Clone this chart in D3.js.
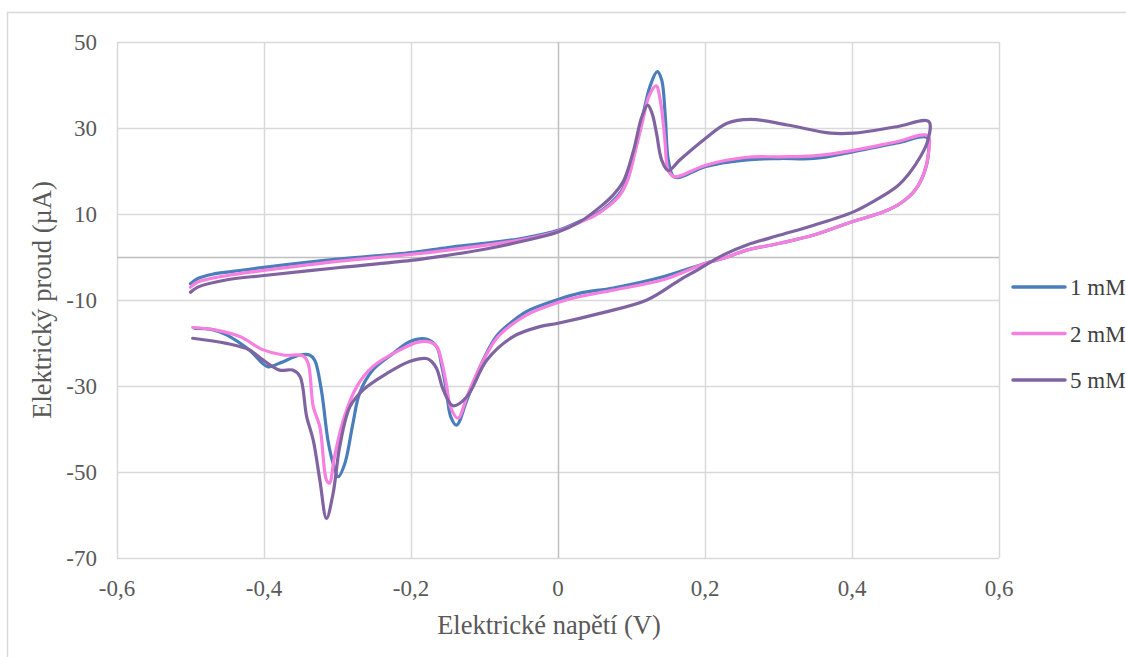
<!DOCTYPE html>
<html>
<head>
<meta charset="utf-8">
<script src="https://cdn.jsdelivr.net/npm/d3@7"></script>
<style>
  body { margin: 0; background: #fff; }
</style>
</head>
<body>
<div id="chart"></div>
<script>
// 1 mM: voltage (V) and current (uA), forward scan then reverse scan
var v1 = [-0.5,-0.49,-0.47,-0.44,-0.4,-0.3,-0.2,-0.15,-0.1,-0.05,0,0.03,0.05,0.07,0.085,0.095,0.105,0.115,0.125,0.135,0.141,0.146,0.15,0.157,0.165,0.2,0.257,0.302,0.348,0.402,0.461,0.502,
  0.504,0.498,0.486,0.466,0.443,0.4,0.348,0.302,0.257,0.225,0.2,0.143,0.075,0.03,0,-0.043,-0.065,-0.084,-0.106,-0.124,-0.138,-0.146,-0.152,-0.158,-0.165,-0.179,-0.202,-0.224,-0.252,-0.27,-0.279,-0.29,-0.299,-0.306,-0.313,-0.322,-0.331,-0.338,-0.351,-0.379,-0.395,-0.42,-0.451,-0.47,-0.494];
var i1 = [-6.2,-5.0,-4.0,-3.3,-2.4,-0.5,1.0,2.2,3.2,4.3,6.2,8.3,9.8,12.3,15.0,18.5,25,32.5,39.6,43.1,41.2,32.6,22.6,18.7,18.5,21.0,22.6,22.9,22.9,24.5,26.5,27.8,
  24.1,19.5,15.6,12.5,10.5,8.2,5.1,3.2,1.6,-0.3,-1.5,-4.6,-7.2,-8.4,-9.9,-12.7,-15.4,-18.5,-25.5,-33.3,-39.1,-37.1,-30.9,-25.5,-20.9,-19.1,-19.7,-22.4,-26.3,-31.7,-38.7,-48,-51.1,-48,-42.6,-30.9,-24.0,-22.8,-22.8,-24.7,-25.5,-21.6,-18.1,-16.9,-16.6];

// 2 mM
var v2 = [-0.5,-0.49,-0.45,-0.4,-0.3,-0.2,-0.15,-0.1,-0.05,0,0.03,0.05,0.07,0.085,0.095,0.105,0.115,0.124,0.1335,0.14,0.145,0.15,0.157,0.165,0.2,0.257,0.302,0.348,0.402,0.461,0.503,
  0.504,0.498,0.486,0.466,0.443,0.4,0.348,0.302,0.257,0.225,0.2,0.143,0.075,0.03,0,-0.043,-0.065,-0.084,-0.106,-0.124,-0.136,-0.146,-0.152,-0.158,-0.165,-0.174,-0.19,-0.215,-0.252,-0.274,-0.292,-0.304,-0.311,-0.315,-0.324,-0.333,-0.34,-0.347,-0.374,-0.401,-0.433,-0.465,-0.497];
var i2 = [-7.0,-5.8,-4.3,-3.1,-1.0,0.6,1.6,2.7,4.0,6.0,8.1,9.6,12.0,14.6,18.0,24.5,31.5,37.5,39.8,35.5,28,20.2,18.7,18.8,21.3,23.2,23.3,23.5,24.8,26.8,28.2,
  24.1,19.5,15.6,12.5,10.5,8.2,5.1,3.2,1.6,-0.3,-1.5,-5.3,-7.7,-9.2,-10.6,-13.5,-16.0,-19.0,-25.5,-32.5,-37.5,-35.0,-29.5,-24.5,-20.8,-19.8,-19.8,-21.6,-25.5,-30.2,-37.9,-46.4,-52.6,-51.9,-39.5,-34.8,-24.7,-23.0,-22.8,-21.6,-18.5,-17.0,-16.4];

// 5 mM
var v5 = [-0.5,-0.49,-0.45,-0.4,-0.3,-0.2,-0.15,-0.1,-0.05,0,0.03,0.057,0.075,0.089,0.103,0.114,0.122,0.128,0.134,0.141,0.15,0.166,0.198,0.23,0.262,0.312,0.371,0.402,0.461,0.5045,
  0.503,0.493,0.478,0.461,0.43,0.402,0.348,0.302,0.257,0.225,0.19,0.166,0.121,0.057,0,-0.025,-0.061,-0.097,-0.124,-0.143,-0.156,-0.165,-0.172,-0.179,-0.202,-0.233,-0.265,-0.283,-0.297,-0.306,-0.315,-0.324,-0.333,-0.342,-0.351,-0.361,-0.379,-0.401,-0.42,-0.451,-0.497];
var i5 = [-8.2,-7.0,-5.3,-4.3,-2.5,-0.8,0.4,1.8,3.6,5.8,8.2,11.6,14.4,17.6,24.9,32.6,35.3,33.4,28.8,22.6,20.1,22.6,27.2,31.1,32.0,30.7,28.8,28.8,30.3,31.5,
  27,23.3,19.5,16.4,13,10.5,7.4,5.1,2.8,0.5,-3,-5.3,-10,-13.1,-15.4,-16.2,-18.5,-24.0,-32.5,-34.6,-30.9,-26,-24.3,-23.6,-24.3,-27.1,-30.9,-34.8,-44.1,-55,-60.8,-51.9,-42.6,-37.1,-27.8,-26.3,-26.3,-24.0,-21.6,-20.1,-18.9];

var seriesNames = ['1 mM', '2 mM', '5 mM'];
var seriesColors = ['#4a7ebb', '#f77fdf', '#8064a2'];
var xTicks = [-0.6, -0.4, -0.2, 0, 0.2, 0.4, 0.6];
var yTicks = [50, 30, 10, -10, -30, -50, -70];

var FONT = '"Liberation Serif", "Times New Roman", Times, serif';
var W = 1126, H = 657;
var margin = {top: 42, left: 117, right: 127, bottom: 99};
var width = W - margin.left - margin.right,
    height = H - margin.top - margin.bottom;

var series = [[v1, i1], [v2, i2], [v5, i5]].map(function(s, k) {
  return {name: seriesNames[k], color: seriesColors[k],
    pts: s[0].map(function(v, j) { return [v, s[1][j]]; })};
});

var xScale = d3.scaleLinear().domain([-0.6, 0.6]).range([0, width]);
var yScale = d3.scaleLinear().domain([-70, 50]).range([height, 0]);
var fmt = function(d) { return String(d).replace('.', ','); };

var svg = d3.select('#chart').append('svg')
  .attr('width', W).attr('height', H)
  .attr('font-family', FONT);

// outer frame
svg.append('rect')
  .attr('x', 7.5).attr('y', 12.5)
  .attr('width', W + 20).attr('height', H + 20)
  .style('fill', 'none').style('stroke', '#d9d9d9').style('stroke-width', 1.5);

var g = svg.append('g')
  .attr('transform', 'translate(' + margin.left + ',' + margin.top + ')');

// grid
g.selectAll('.hgrid').data(yTicks).enter().append('line')
  .attr('x1', 0).attr('x2', width)
  .attr('y1', function(d) { return Math.round(yScale(d)) + 0.5; })
  .attr('y2', function(d) { return Math.round(yScale(d)) + 0.5; })
  .style('stroke', '#d9d9d9').style('stroke-width', 1.5);
g.selectAll('.vgrid').data(xTicks).enter().append('line')
  .attr('y1', 0).attr('y2', height)
  .attr('x1', function(d) { return Math.round(xScale(d)) + 0.5; })
  .attr('x2', function(d) { return Math.round(xScale(d)) + 0.5; })
  .style('stroke', function(d) { return d === 0 ? '#bfbfbf' : '#d9d9d9'; })
  .style('stroke-width', 1.5);
// zero line
g.append('line')
  .attr('x1', 0).attr('x2', width)
  .attr('y1', Math.round(yScale(0)) + 0.5).attr('y2', Math.round(yScale(0)) + 0.5)
  .style('stroke', '#bfbfbf').style('stroke-width', 1.5);

// tick labels
g.selectAll('.ylab').data(yTicks).enter().append('text')
  .attr('x', -20).attr('y', function(d) { return yScale(d); })
  .attr('dy', '0.35em').attr('text-anchor', 'end')
  .style('font-family', FONT).style('font-size', '23px').style('fill', '#595959')
  .text(fmt);
g.selectAll('.xlab').data(xTicks).enter().append('text')
  .attr('x', function(d) { return xScale(d); })
  .attr('y', 596 - margin.top)
  .attr('text-anchor', 'middle')
  .style('font-family', FONT).style('font-size', '23px').style('fill', '#595959')
  .text(fmt);

// axis titles
svg.append('text')
  .attr('x', 549).attr('y', 634)
  .attr('text-anchor', 'middle')
  .style('font-family', FONT).style('font-size', '26.5px').style('fill', '#595959')
  .text('Elektrické napětí (V)');
svg.append('text')
  .attr('transform', 'translate(51,' + (margin.top + yScale(-10)) + ') rotate(-90)')
  .attr('text-anchor', 'middle')
  .style('font-family', FONT).style('font-size', '26.5px').style('fill', '#595959')
  .text('Elektrický proud (µA)');

// curves
var line = d3.line()
  .x(function(d) { return xScale(d[0]); })
  .y(function(d) { return yScale(d[1]); })
  .curve(d3.curveCatmullRom.alpha(0.5));

g.selectAll('.curve').data(series).enter().append('path')
  .attr('d', function(d) { return line(d.pts); })
  .style('fill', 'none')
  .style('stroke', function(d) { return d.color; })
  .style('stroke-width', 3.2)
  .style('stroke-linejoin', 'round')
  .style('stroke-linecap', 'round');

// legend
var leg = svg.append('g').attr('transform', 'translate(1012,287)');
var li = leg.selectAll('g').data(series).enter().append('g')
  .attr('transform', function(d, k) { return 'translate(0,' + (k * 46.5) + ')'; });
li.append('line')
  .attr('x1', 1).attr('x2', 53)
  .style('stroke', function(d) { return d.color; })
  .style('stroke-width', 3.5).style('stroke-linecap', 'round');
li.append('text')
  .attr('x', 58).attr('dy', '0.35em')
  .style('font-family', FONT).style('font-size', '23px').style('fill', '#404040')
  .text(function(d) { return d.name; });
</script>
</body>
</html>
